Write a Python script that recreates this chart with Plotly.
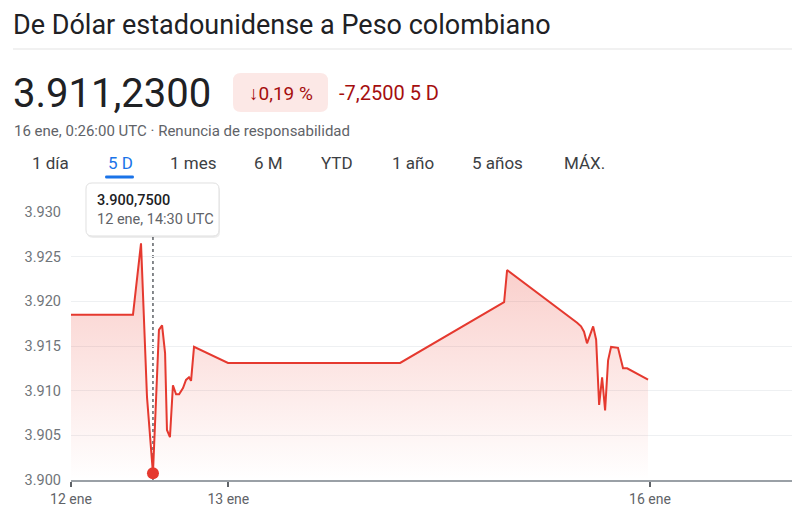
import plotly.graph_objects as go

# datos (x en dias desde 12 ene, escala comprimida del eje)
dias = [0.000, 0.394, 0.445, 0.483, 0.521, 0.559, 0.579, 0.598, 0.610, 0.629,
        0.648, 0.668, 0.687, 0.712, 0.731, 0.750, 0.763, 0.782, 0.998, 2.092,
        2.753, 2.772, 3.217, 3.242, 3.261, 3.280, 3.319, 3.338, 3.357, 3.376,
        3.395, 3.414, 3.433, 3.477, 3.509, 3.535, 3.668]
precio = [3918.5, 3918.5, 3926.5, 3909.3, 3900.75, 3916.8, 3917.3, 3914.2, 3905.6, 3904.8,
          3910.6, 3909.6, 3909.6, 3910.3, 3911.2, 3911.5, 3911.1, 3914.9, 3913.1, 3913.1,
          3919.9, 3923.5, 3917.6, 3917.2, 3916.6, 3915.3, 3917.2, 3915.7, 3908.4, 3911.5,
          3907.8, 3913.4, 3914.9, 3914.8, 3912.5, 3912.5, 3911.23]

x_ticks = [0, 1, 3.68]
x_labels = ["12 ene", "13 ene", "16 ene"]
y_ticks = [3900, 3905, 3910, 3915, 3920, 3925, 3930]

tabs = ["1 día", "5 D", "1 mes", "6 M", "YTD", "1 año", "5 años", "MÁX."]
sel = 4  # punto marcado (12 ene, 14:30 UTC)

ROJO = "#e5392f"

# la pagina pone 8px de margen al body, asi que la figura se corre 8px
OFF = 8
W, H = 800 - OFF, 515 - OFF
PL, PT, PR, PB = 71, 212, 792, 480   # area del grafico en pixeles de la pagina
L, T = PL - OFF, PT - OFF
R, B = W - (PR - OFF), H - (PB - OFF)


def px(x):
    return (x - PL) / (PR - PL)


def py(y):
    return (PB - y) / (PB - PT)


def rounded(x0, y0, x1, y1, r):
    # rectangulo redondeado en pixeles -> path en coordenadas paper
    pts = [
        ("M", x0 + r, y0), ("L", x1 - r, y0), ("Q", x1, y0, x1, y0 + r),
        ("L", x1, y1 - r), ("Q", x1, y1, x1 - r, y1), ("L", x0 + r, y1),
        ("Q", x0, y1, x0, y1 - r), ("L", x0, y0 + r), ("Q", x0, y0, x0 + r, y0),
    ]
    s = ""
    for p in pts:
        coords = p[1:]
        parts = []
        for i in range(0, len(coords), 2):
            parts.append(f"{px(coords[i]):.5f},{py(coords[i + 1]):.5f}")
        s += p[0] + " " + " ".join(parts) + " "
    return s + "Z"


def fmt(v, d):
    s = f"{v:,.{d}f}"
    return s.replace(",", "#").replace(".", ",").replace("#", ".")


fig = go.Figure()

fig.add_trace(go.Scatter(
    x=dias, y=precio, mode="lines",
    line=dict(color=ROJO, width=2),
    fill="tozeroy",
    fillgradient=dict(type="vertical",
                      colorscale=[[0, "rgba(234,67,53,0.0)"], [1, "rgba(234,67,53,0.28)"]],
                      start=3900, stop=3926),
    hoverinfo="skip", showlegend=False,
))

fig.add_trace(go.Scatter(
    x=[dias[sel]], y=[precio[sel]], mode="markers",
    marker=dict(color=ROJO, size=12),
    cliponaxis=False, hoverinfo="skip", showlegend=False,
))

shapes = []
annotations = []

# cabecera
annotations.append(dict(x=px(12), y=py(OFF), yanchor="top", borderpad=0,
                        text="De Dólar estadounidense a Peso colombiano",
                        font=dict(size=27, color="#202124")))
shapes.append(dict(type="line", xref="paper", yref="paper", x0=px(13), x1=px(800),
                   y0=py(49), y1=py(49), line=dict(color="#e3e3e3", width=1)))
annotations.append(dict(x=px(11), y=py(94), text="3.911,2300",
                        font=dict(size=40, color="#202124")))
shapes.append(dict(type="path", xref="paper", yref="paper", path=rounded(233, 73, 328, 112, 8),
                   fillcolor="#fce8e6", line=dict(width=0)))
annotations.append(dict(x=px(281), y=py(93), text="↓0,19 %", xanchor="center",
                        font=dict(size=19, color="#a50e0e")))
annotations.append(dict(x=px(337), y=py(93), text="-7,2500 5 D",
                        font=dict(size=20, color="#a50e0e")))
annotations.append(dict(x=px(12), y=py(131), text="16 ene, 0:26:00 UTC · Renuncia de responsabilidad",
                        font=dict(size=15, color="#5f6368")))

# pestañas
tab_x = [50, 120, 193, 268, 337, 413, 498, 584]
for t, cx in zip(tabs, tab_x):
    annotations.append(dict(x=px(cx), y=py(163), text=t, xanchor="center",
                            font=dict(size=17, color="#1a73e8" if t == "5 D" else "#3c4043")))
shapes.append(dict(type="path", xref="paper", yref="paper", path=rounded(105, 175.5, 134, 178.5, 1.5),
                   fillcolor="#1a73e8", line=dict(width=0)))

# linea punteada y tooltip
shapes.append(dict(type="line", xref="x", yref="paper", x0=dias[sel], x1=dias[sel],
                   y0=0, y1=py(236), line=dict(color="#5f6368", width=1.5, dash="dot"), layer="below"))
shapes.append(dict(type="path", xref="paper", yref="paper", path=rounded(87, 185, 220, 238, 6),
                   fillcolor="rgba(0,0,0,0.07)", line=dict(width=0)))
shapes.append(dict(type="path", xref="paper", yref="paper", path=rounded(86, 183, 219, 236, 6),
                   fillcolor="white", line=dict(color="#e0e0e0", width=1)))
annotations.append(dict(x=px(95), y=py(200), text=fmt(precio[sel], 4),
                        font=dict(size=14.5, color="#202124", weight=500)))
annotations.append(dict(x=px(95), y=py(219), text="12 ene, 14:30 UTC",
                        font=dict(size=14.5, color="#5f6368")))

for a in annotations:
    a.update(xref="paper", yref="paper", showarrow=False)
    a.setdefault("xanchor", "left")
    a.setdefault("yanchor", "middle")

fig.update_layout(
    width=W, height=H,
    margin=dict(l=L, r=R, t=T, b=B),
    paper_bgcolor="white", plot_bgcolor="white",
    font=dict(family="Roboto, Arial, sans-serif"),
    separators=",.",
    shapes=shapes, annotations=annotations,
    xaxis=dict(range=[0, 4.583], tickvals=x_ticks, ticktext=x_labels,
               showgrid=False, zeroline=False, showline=True, linecolor="#9aa0a6", linewidth=1.5,
               ticks="outside", ticklen=5, tickwidth=2, tickcolor="#5f6368",
               tickfont=dict(size=14, color="#5f6368")),
    yaxis=dict(range=[3900, 3930], tickvals=y_ticks, tickformat=",d",
               showgrid=True, gridcolor="#eef0f2", zeroline=False, showline=False,
               ticklabelstandoff=9, tickfont=dict(size=14.5, color="#70757a")),
)

fig.write_html("out.html")
